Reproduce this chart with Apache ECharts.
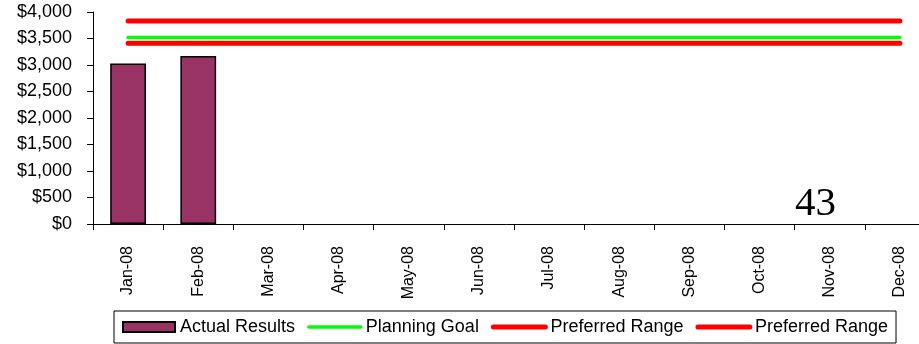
<!DOCTYPE html>
<html>
<head>
<meta charset="utf-8">
<script src="https://cdn.jsdelivr.net/npm/echarts@6/dist/echarts.min.js"></script>
<style>
  html, body { margin: 0; padding: 0; background: #fff; }
  #chart { width: 919px; height: 344px; }
</style>
</head>
<body>
<div id="chart"></div>
<script>
// Monthly categories for 2008
const months = ['Jan-08', 'Feb-08', 'Mar-08', 'Apr-08', 'May-08', 'Jun-08',
                'Jul-08', 'Aug-08', 'Sep-08', 'Oct-08', 'Nov-08', 'Dec-08'];

// Actual monthly results (only the first two months reported)
const actualResults = [3030, 3170, null, null, null, null, null, null, null, null, null, null];

// Planning goal and the preferred range bounds
const planningGoal = [3520, 3520, 3520, 3520, 3520, 3520, 3520, 3520, 3520, 3520, 3520, 3520];
const preferredHigh = [3830, 3830, 3830, 3830, 3830, 3830, 3830, 3830, 3830, 3830, 3830, 3830];
const preferredLow = [3410, 3410, 3410, 3410, 3410, 3410, 3410, 3410, 3410, 3410, 3410, 3410];

// Value-axis tick labels, from $0 upward in $500 steps
const yTickLabels = ['$0', '$500', '$1,000', '$1,500', '$2,000', '$2,500', '$3,000', '$3,500', '$4,000'];

const font = 'Arial, "Liberation Sans", sans-serif';

const chart = echarts.init(document.getElementById('chart'), null, { renderer: 'canvas' });

function rangeLine(name, data, color, width) {
  return {
    name: name,
    type: 'line',
    data: data,
    symbol: 'none',
    silent: true,
    lineStyle: { color: color, width: width, cap: 'round' },
    itemStyle: { color: color },
    z: 3
  };
}

// legend entry for a line series: the line only, no marker
function lineLegend(name, width) {
  return {
    name: name,
    lineStyle: { width: width, cap: 'round' },
    itemStyle: { opacity: 0, borderWidth: 0 }
  };
}

chart.setOption({
  animation: false,
  backgroundColor: '#fff',
  // the plot area runs on past the right edge of the page
  grid: { left: 93, top: 12, width: 842, height: 212, containLabel: false, outerBoundsMode: 'none' },
  xAxis: {
    type: 'category',
    data: months,
    boundaryGap: true,
    axisLine: { lineStyle: { color: '#000', width: 1 } },
    axisTick: { show: true, length: 6, lineStyle: { color: '#000' } },
    axisLabel: {
      rotate: 90,
      margin: 22,
      color: '#000',
      fontFamily: font,
      fontSize: 16
    },
    splitLine: { show: false }
  },
  yAxis: {
    type: 'value',
    min: 0,
    max: 4000,
    interval: 500,
    axisLine: { show: true, lineStyle: { color: '#000', width: 1 } },
    axisTick: { show: true, length: 6, lineStyle: { color: '#000' } },
    axisLabel: {
      margin: 21,
      color: '#000',
      fontFamily: font,
      fontSize: 18,
      formatter: function (v) { return yTickLabels[Math.round(v / 500)]; }
    },
    splitLine: { show: false }
  },
  legend: {
    left: 114,
    top: 311,
    padding: [7, 8, 7, 8],
    borderColor: '#000',
    borderWidth: 1,
    itemWidth: 52,
    itemHeight: 10,
    itemGap: 12,
    textStyle: { color: '#000', fontFamily: font, fontSize: 18 },
    data: [
      { name: 'Actual Results', icon: 'rect' },
      lineLegend('Planning Goal', 3.5),
      lineLegend('Preferred Range', 5),
      lineLegend('Preferred Range ', 5)
    ],
    formatter: function (n) { return n.trim(); }
  },
  series: [
    {
      name: 'Actual Results',
      type: 'bar',
      data: actualResults,
      barWidth: '51%',
      itemStyle: { color: '#993366', borderColor: '#000', borderWidth: 1.5 },
      z: 2
    },
    rangeLine('Planning Goal', planningGoal, '#00ff00', 3.5),
    rangeLine('Preferred Range', preferredHigh, '#ff0000', 5),
    rangeLine('Preferred Range ', preferredLow, '#ff0000', 5)
  ],
  graphic: [
    {
      type: 'text',
      left: 795,
      top: 184,
      style: {
        text: '43',
        fill: '#000',
        font: '41px "Liberation Serif", "Times New Roman", serif'
      },
      z: 10
    }
  ]
});
</script>
</body>
</html>
